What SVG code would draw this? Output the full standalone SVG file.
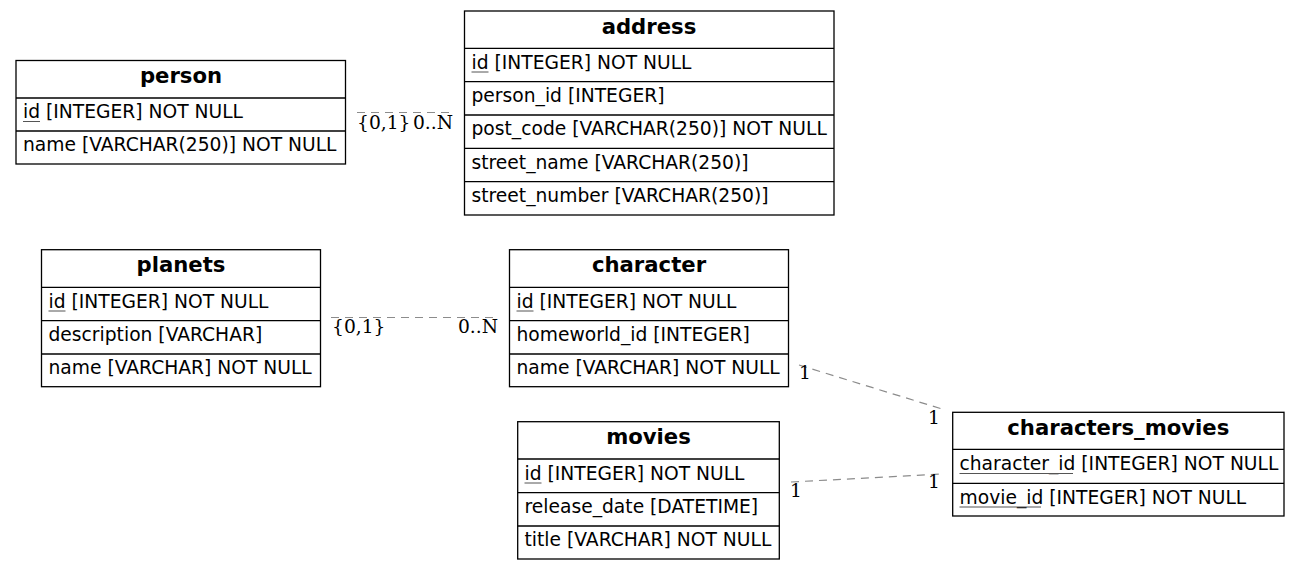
<svg xmlns="http://www.w3.org/2000/svg" width="1300" height="569" viewBox="0 0 1300 569">
<style>
.box{fill:#fff;stroke:#000;stroke-width:1.3}
.sep{stroke:#000;stroke-width:1.3}
.title{font-family:"DejaVu Sans",sans-serif;font-weight:bold;font-size:21.2px;text-anchor:middle;fill:#000}
.row{font-family:"DejaVu Sans",sans-serif;font-size:18.7px;fill:#000}
.ul{stroke:#555;stroke-width:1}
.conn{stroke:#8c8c8c;stroke-width:1.2;stroke-dasharray:8,6;fill:none}
.lbl{font-family:"DejaVu Serif",serif;font-size:18.7px;fill:#000}
</style>
<rect width="1300" height="569" fill="#fff"/>
<g id="connectors">
<line class="conn" x1="357" y1="112.5" x2="453" y2="112.5"/>
<line class="conn" x1="331" y1="317.5" x2="499" y2="317.5"/>
<line class="conn" x1="799" y1="365" x2="942" y2="409"/>
<line class="conn" x1="791" y1="482" x2="942" y2="474"/>
<text class="lbl" x="357" y="128.5">{0,1}</text>
<text class="lbl" x="453" y="128.5" text-anchor="end">0..N</text>
<text class="lbl" x="332" y="333">{0,1}</text>
<text class="lbl" x="498" y="333" text-anchor="end">0..N</text>
<text class="lbl" x="799" y="379">1</text>
<text class="lbl" x="928" y="424">1</text>
<text class="lbl" x="790" y="497">1</text>
<text class="lbl" x="928" y="488">1</text>
</g>
<g id="person">
<rect class="box" x="16" y="60.5" width="329.5" height="103.5"/>
<line class="sep" x1="16" y1="98" x2="345.5" y2="98"/>
<line class="sep" x1="16" y1="131" x2="345.5" y2="131"/>
<text class="title" x="181" y="83">person</text>
<text class="row" x="23" y="118">id [INTEGER] NOT NULL</text>
<line class="ul" x1="23" y1="121.5" x2="40" y2="121.5"/>
<text class="row" x="23" y="151">name [VARCHAR(250)] NOT NULL</text>
</g>
<g id="address">
<rect class="box" x="464.5" y="11" width="369.5" height="204"/>
<line class="sep" x1="464.5" y1="48.3" x2="834" y2="48.3"/>
<line class="sep" x1="464.5" y1="81.7" x2="834" y2="81.7"/>
<line class="sep" x1="464.5" y1="115" x2="834" y2="115"/>
<line class="sep" x1="464.5" y1="148.3" x2="834" y2="148.3"/>
<line class="sep" x1="464.5" y1="181.7" x2="834" y2="181.7"/>
<text class="title" x="649" y="34">address</text>
<text class="row" x="471.5" y="68.5">id [INTEGER] NOT NULL</text>
<line class="ul" x1="471.5" y1="72" x2="488.5" y2="72"/>
<text class="row" x="471.5" y="102">person_id [INTEGER]</text>
<text class="row" x="471.5" y="135">post_code [VARCHAR(250)] NOT NULL</text>
<text class="row" x="471.5" y="168.5">street_name [VARCHAR(250)]</text>
<text class="row" x="471.5" y="202">street_number [VARCHAR(250)]</text>
</g>
<g id="planets">
<rect class="box" x="41.5" y="249.7" width="279" height="137"/>
<line class="sep" x1="41.5" y1="287.3" x2="320.5" y2="287.3"/>
<line class="sep" x1="41.5" y1="320.7" x2="320.5" y2="320.7"/>
<line class="sep" x1="41.5" y1="354" x2="320.5" y2="354"/>
<text class="title" x="181" y="272">planets</text>
<text class="row" x="48.5" y="307.5">id [INTEGER] NOT NULL</text>
<line class="ul" x1="48.5" y1="311" x2="65.5" y2="311"/>
<text class="row" x="48.5" y="341">description [VARCHAR]</text>
<text class="row" x="48.5" y="374">name [VARCHAR] NOT NULL</text>
</g>
<g id="character">
<rect class="box" x="509.5" y="249.7" width="279" height="137"/>
<line class="sep" x1="509.5" y1="287.3" x2="788.5" y2="287.3"/>
<line class="sep" x1="509.5" y1="320.7" x2="788.5" y2="320.7"/>
<line class="sep" x1="509.5" y1="354" x2="788.5" y2="354"/>
<text class="title" x="649" y="272">character</text>
<text class="row" x="516.5" y="307.5">id [INTEGER] NOT NULL</text>
<line class="ul" x1="516.5" y1="311" x2="533.5" y2="311"/>
<text class="row" x="516.5" y="341">homeworld_id [INTEGER]</text>
<text class="row" x="516.5" y="374">name [VARCHAR] NOT NULL</text>
</g>
<g id="movies">
<rect class="box" x="517.7" y="421.7" width="261.6" height="137.3"/>
<line class="sep" x1="517.7" y1="459" x2="779.3" y2="459"/>
<line class="sep" x1="517.7" y1="492.7" x2="779.3" y2="492.7"/>
<line class="sep" x1="517.7" y1="526" x2="779.3" y2="526"/>
<text class="title" x="648.5" y="444">movies</text>
<text class="row" x="524.5" y="479.5">id [INTEGER] NOT NULL</text>
<line class="ul" x1="524.5" y1="483" x2="541.5" y2="483"/>
<text class="row" x="524.5" y="513">release_date [DATETIME]</text>
<text class="row" x="524.5" y="546">title [VARCHAR] NOT NULL</text>
</g>
<g id="characters_movies">
<rect class="box" x="952.7" y="412.3" width="331.3" height="103.7"/>
<line class="sep" x1="952.7" y1="449.3" x2="1284" y2="449.3"/>
<line class="sep" x1="952.7" y1="483.3" x2="1284" y2="483.3"/>
<text class="title" x="1118.3" y="435">characters_movies</text>
<text class="row" x="959.5" y="470">character_id [INTEGER] NOT NULL</text>
<line class="ul" x1="959.5" y1="473.5" x2="1073" y2="473.5"/>
<text class="row" x="959.5" y="503.5">movie_id [INTEGER] NOT NULL</text>
<line class="ul" x1="959.5" y1="507" x2="1041" y2="507"/>
</g>
</svg>
